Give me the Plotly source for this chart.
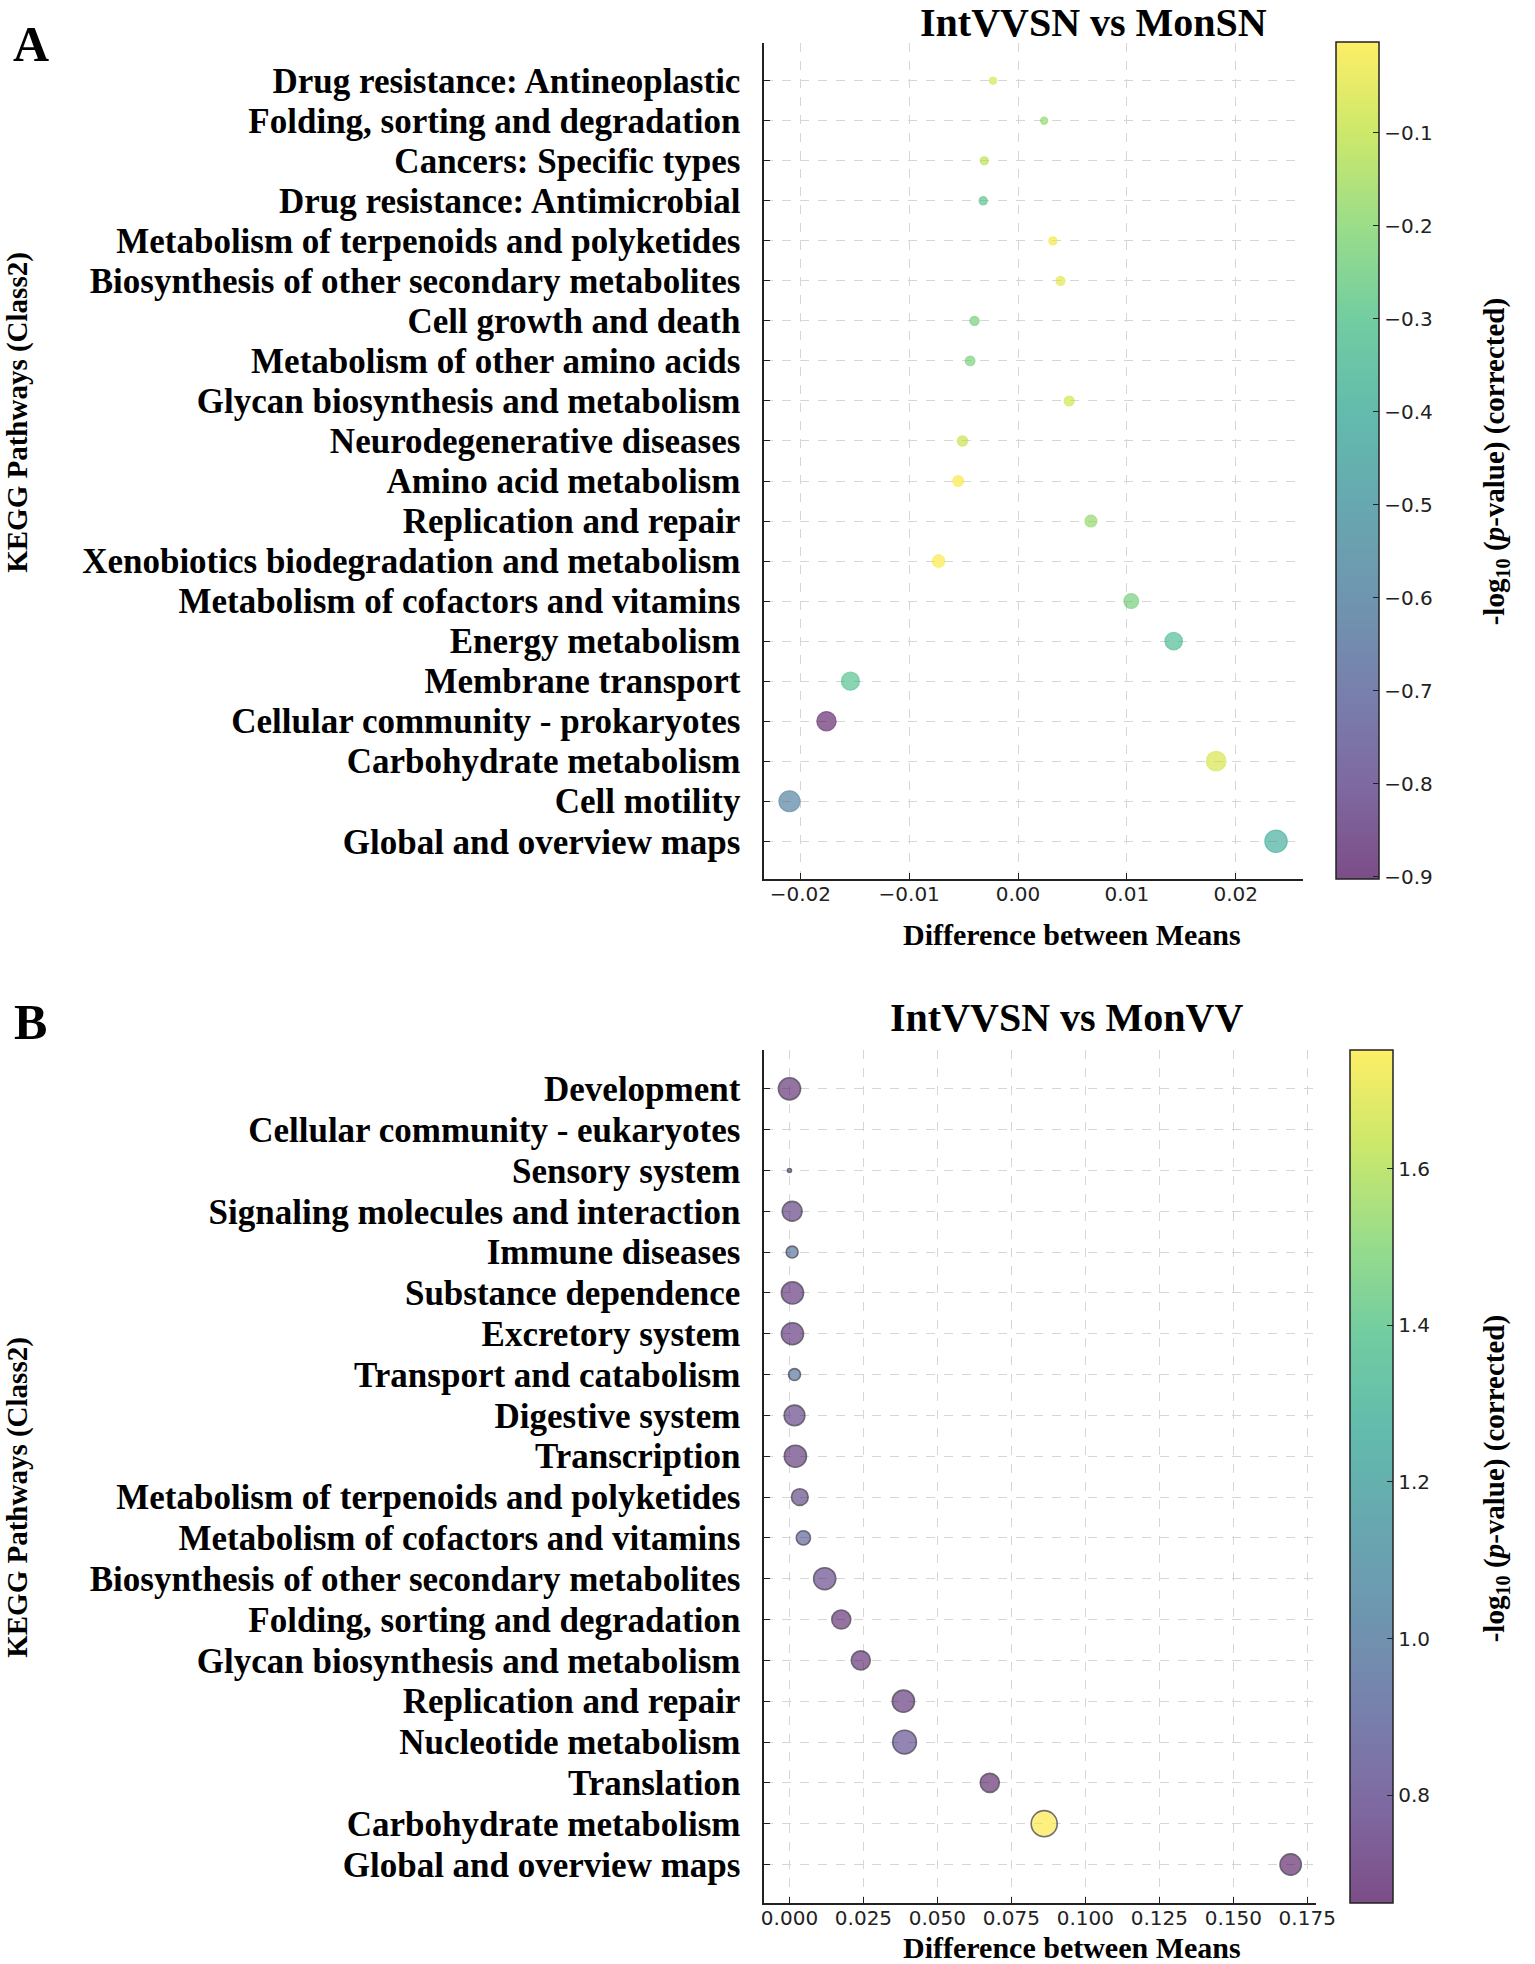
import plotly.graph_objects as go
import plotly.colors as pc

# ---------------- data ----------------
a_pathways = [
    "Drug resistance: Antineoplastic",
    "Folding, sorting and degradation",
    "Cancers: Specific types",
    "Drug resistance: Antimicrobial",
    "Metabolism of terpenoids and polyketides",
    "Biosynthesis of other secondary metabolites",
    "Cell growth and death",
    "Metabolism of other amino acids",
    "Glycan biosynthesis and metabolism",
    "Neurodegenerative diseases",
    "Amino acid metabolism",
    "Replication and repair",
    "Xenobiotics biodegradation and metabolism",
    "Metabolism of cofactors and vitamins",
    "Energy metabolism",
    "Membrane transport",
    "Cellular community - prokaryotes",
    "Carbohydrate metabolism",
    "Cell motility",
    "Global and overview maps",
]
a_diff = [-0.0023, 0.0024, -0.0031, -0.0032, 0.0032, 0.0039, -0.0040, -0.0044,
          0.0047, -0.0051, -0.0055, 0.0067, -0.0073, 0.0104, 0.0143, -0.0154,
          -0.0176, 0.0182, -0.0210, 0.0237]
a_logp = [-0.065, -0.18, -0.11, -0.29, -0.02, -0.045, -0.24, -0.23,
          -0.075, -0.09, -0.01, -0.18, -0.003, -0.24, -0.34, -0.31,
          -0.903, -0.065, -0.60, -0.40]
a_xticks = [-0.02, -0.01, 0.00, 0.01, 0.02]
a_cbticks = [-0.9, -0.8, -0.7, -0.6, -0.5, -0.4, -0.3, -0.2, -0.1]

b_pathways = [
    "Development",
    "Cellular community - eukaryotes",
    "Sensory system",
    "Signaling molecules and interaction",
    "Immune diseases",
    "Substance dependence",
    "Excretory system",
    "Transport and catabolism",
    "Digestive system",
    "Transcription",
    "Metabolism of terpenoids and polyketides",
    "Metabolism of cofactors and vitamins",
    "Biosynthesis of other secondary metabolites",
    "Folding, sorting and degradation",
    "Glycan biosynthesis and metabolism",
    "Replication and repair",
    "Nucleotide metabolism",
    "Translation",
    "Carbohydrate metabolism",
    "Global and overview maps",
]
b_diff = [0.0000, 0.0000, 0.0000, 0.0009, 0.0009, 0.0010, 0.0010, 0.0017,
          0.0017, 0.0020, 0.0035, 0.0047, 0.0119, 0.0175, 0.0241, 0.0385,
          0.0389, 0.0677, 0.0861, 0.1694]
b_logp = [0.70, 0.70, 0.95, 0.75, 0.98, 0.72, 0.72, 0.97, 0.76, 0.73,
          0.77, 0.90, 0.78, 0.70, 0.70, 0.72, 0.80, 0.68, 1.751, 0.662]
b_abund = [1.0, 0.0, 0.032, 0.80, 0.29, 1.0, 1.0, 0.29, 0.87, 1.0,
           0.57, 0.41, 1.0, 0.74, 0.74, 1.0, 1.15, 0.74, 1.39, 0.93]
b_xticks = [0.000, 0.025, 0.050, 0.075, 0.100, 0.125, 0.150, 0.175]
b_cbticks = [0.8, 1.0, 1.2, 1.4, 1.6]

# ---------------- styling ----------------
W, H = 1535, 1964
SERIF = "Liberation Serif, Times New Roman, serif"
SANS = "DejaVu Sans, sans-serif"


def rgba(hexc, a):
    r, g, b = pc.hex_to_rgb(hexc)
    return f"rgba({r},{g},{b},{a})"


vir = pc.sequential.Viridis
mark_scale = [[i / (len(vir) - 1), rgba(c, 0.82)] for i, c in enumerate(vir)]
bar_scale = [[i / (len(vir) - 1), rgba(c, 0.7)] for i, c in enumerate(vir)]


def px_x(p):
    return p / W


def px_y(p):
    return 1 - p / H


def cbar(x_left, top, bottom, ticks):
    return dict(
        x=px_x(x_left), xanchor="left", y=px_y(bottom), yanchor="bottom",
        len=(bottom - top) / H, lenmode="fraction",
        thickness=43, thicknessmode="pixels", xpad=0, ypad=0,
        outlinewidth=1.5, outlinecolor="#222",
        ticks="inside", ticklen=6, tickcolor="#222",
        tickvals=ticks, tickformat=".1f",
        tickfont=dict(family=SANS, size=20, color="#222"),
    )


fig = go.Figure()

# panel A markers
fig.add_trace(go.Scatter(
    x=a_diff, y=a_pathways, mode="markers", xaxis="x", yaxis="y",
    marker=dict(
        size=[abs(v) for v in a_diff], sizemode="area", sizeref=0.95e-4,
        color=a_logp, colorscale=mark_scale, cmin=min(a_logp), cmax=max(a_logp),
        showscale=False,
        line=dict(width=1.2, color=a_logp, colorscale=mark_scale,
                  cmin=min(a_logp), cmax=max(a_logp)),
    ),
    showlegend=False, hoverinfo="skip",
))
# panel A colorbar
fig.add_trace(go.Scatter(
    x=[None, None], y=[None, None], mode="markers", xaxis="x", yaxis="y",
    marker=dict(color=[min(a_logp), max(a_logp)], colorscale=bar_scale,
                cmin=min(a_logp), cmax=max(a_logp), showscale=True,
                colorbar=cbar(1353, 42.7, 879.3, a_cbticks)),
    showlegend=False, hoverinfo="skip",
))

# panel B markers
fig.add_trace(go.Scatter(
    x=b_diff, y=b_pathways, mode="markers", xaxis="x2", yaxis="y2",
    marker=dict(
        size=b_abund, sizemode="area", sizeref=0.0041,
        color=b_logp, colorscale=mark_scale, cmin=min(b_logp), cmax=max(b_logp),
        showscale=False,
        line=dict(width=[0 if s == 0 else 1.6 for s in b_abund],
                  color="rgba(25,15,35,0.85)"),
    ),
    showlegend=False, hoverinfo="skip",
))
# panel B colorbar
fig.add_trace(go.Scatter(
    x=[None, None], y=[None, None], mode="markers", xaxis="x2", yaxis="y2",
    marker=dict(color=[min(b_logp), max(b_logp)], colorscale=bar_scale,
                cmin=min(b_logp), cmax=max(b_logp), showscale=True,
                colorbar=cbar(1367, 1050, 1903.3, b_cbticks)),
    showlegend=False, hoverinfo="skip",
))

common_x = dict(
    showline=True, linecolor="#222", linewidth=2, mirror=False,
    showgrid=True, gridcolor="#d6d6d6", gridwidth=1, griddash="dash",
    zeroline=False, ticks="inside", ticklen=6, tickcolor="#222",
    tickfont=dict(family=SANS, size=20, color="#222"),
    ticklabelstandoff=-4,
)
common_y = dict(
    type="category",
    showline=True, linecolor="#222", linewidth=2, mirror=False,
    showgrid=True, gridcolor="#d6d6d6", gridwidth=1, griddash="dash",
    zeroline=False, ticks="inside", ticklen=6, tickcolor="#222",
    tickfont=dict(family=SERIF, size=35, color="#000", weight="bold"),
    ticklabelstandoff=15,
)

fig.update_layout(
    width=W, height=H,
    margin=dict(l=0, r=0, t=0, b=0),
    paper_bgcolor="white", plot_bgcolor="white",
    xaxis=dict(common_x, domain=[px_x(773), px_x(1320)], range=[-0.0233, 0.0262],
               tickvals=a_xticks, tickformat=".2f", anchor="y"),
    yaxis=dict(common_y, domain=[px_y(879.3), px_y(42.7)],
               categoryorder="array", categoryarray=a_pathways,
               tickmode="array", tickvals=a_pathways, ticktext=a_pathways,
               range=[19.95, -0.95], anchor="x"),
    xaxis2=dict(common_x, domain=[px_x(773), px_x(1332.7)], range=[-0.00847, 0.17787],
                tickvals=b_xticks, tickformat=".3f", anchor="y2"),
    yaxis2=dict(common_y, domain=[px_y(1903.3), px_y(1050)],
                categoryorder="array", categoryarray=b_pathways,
                tickmode="array", tickvals=b_pathways, ticktext=b_pathways,
                range=[19.95, -0.95], anchor="x2"),
)

ann = []


def add_text(text, x, y, size, angle=0):
    ann.append(dict(text=text, x=px_x(x), y=px_y(y), xref="paper", yref="paper",
                    xanchor="center", yanchor="middle", showarrow=False, textangle=angle,
                    font=dict(family=SERIF, size=size, color="#000", weight="bold")))


add_text("A", 28, 44, 50)
add_text("B", 28, 1022, 50)
add_text("IntVVSN vs MonSN", 1107, 22, 40)
add_text("IntVVSN vs MonVV", 1080, 1018, 40)
add_text("Difference between Means", 1085, 935, 30)
add_text("Difference between Means", 1085, 1947, 30)
add_text("KEGG Pathways (Class2)", 14, 412, 29, -90)
add_text("KEGG Pathways (Class2)", 14, 1497, 29, -90)
cbt = "-log<sub>10</sub> (<i>p</i>-value) (corrected)"
add_text(cbt, 1516, 462, 29, -90)
add_text(cbt, 1516, 1479, 29, -90)

fig.update_layout(annotations=ann)

fig.write_html("out.html", config={"displayModeBar": False},
               post_script="document.body.style.margin='0';document.body.style.overflow='hidden';")
